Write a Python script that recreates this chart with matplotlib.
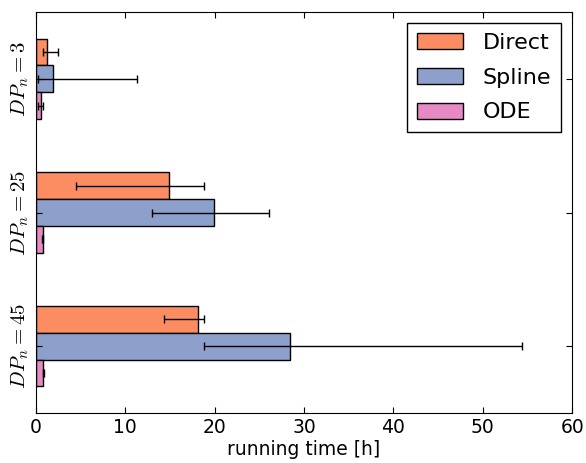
import numpy as np
import matplotlib
matplotlib.use('Agg')
import matplotlib.pyplot as plt

plt.rcParams['mathtext.fontset'] = 'cm'
plt.rcParams['xtick.direction'] = 'in'
plt.rcParams['ytick.direction'] = 'in'
plt.rcParams['xtick.top'] = True
plt.rcParams['ytick.right'] = True

groups = [r'$DP_n=3$', r'$DP_n=25$', r'$DP_n=45$']
methods = ['Direct', 'Spline', 'ODE']
colors = ['#fc8d62', '#8da0cb', '#e78ac3']

# mean running time and (low, high) of the error bars per method
direct = [1.22, 14.9, 18.1]
direct_lo = [0.74, 4.5, 14.3]
direct_hi = [2.48, 18.8, 18.8]

spline = [1.96, 19.9, 28.4]
spline_lo = [0.18, 12.96, 18.8]
spline_hi = [11.3, 26.1, 54.4]

ode = [0.51, 0.78, 0.8]
ode_lo = [0.26, 0.72, 0.75]
ode_hi = [0.74, 0.84, 0.85]

values = [direct, spline, ode]
lows = [direct_lo, spline_lo, ode_lo]
highs = [direct_hi, spline_hi, ode_hi]

fig = plt.figure(figsize=(5.86, 4.63), dpi=100)
ax = fig.add_axes([0.0614, 0.108, 0.915, 0.866])

ind = np.arange(len(groups))
h = 0.2
for k in range(3):
    v = np.array(values[k])
    err = [v - np.array(lows[k]), np.array(highs[k]) - v]
    ax.barh(ind + (k - 1) * h, v, height=h, color=colors[k], edgecolor='black',
            linewidth=1, label=methods[k], xerr=err,
            error_kw=dict(ecolor='black', elinewidth=1, capsize=3, capthick=1))

ax.set_ylim(2.5, -0.5)
ax.set_xlim(0, 60)
ax.set_yticks(ind)
ax.set_yticklabels(groups, rotation=90, va='center', fontsize=15)
ax.tick_params(axis='x', labelsize=13.5, length=4)
ax.tick_params(axis='y', length=4)
ax.set_xlabel('running time [h]', fontsize=13.5, labelpad=2)

leg = ax.legend(loc='upper right', fontsize=16, fancybox=False, framealpha=1,
                edgecolor='black', handlelength=2.07, handleheight=0.72,
                handletextpad=0.9, labelspacing=0.66, borderpad=0.45)
leg.get_frame().set_linewidth(1)

fig.savefig('out.png', dpi=100)
